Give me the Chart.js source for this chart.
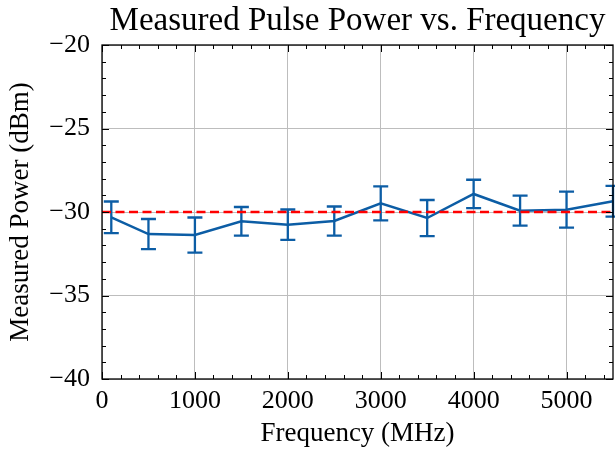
<!DOCTYPE html>
<html>
<head>
<meta charset="utf-8">
<script src="https://cdn.jsdelivr.net/npm/chart.js@4"></script>
<style>
html,body{margin:0;padding:0;background:#fff;}
#wrap{width:615px;height:450px;}
</style>
</head>
<body>
<div id="wrap"><canvas id="c" width="615" height="450"></canvas></div>
<script>
const frequencies = [100, 500, 1000, 1500, 2000, 2500, 3000, 3500, 4000, 4500, 5000, 5500];
const power = [-30.32, -31.32, -31.38, -30.56, -30.76, -30.54, -29.48, -30.36, -28.92, -29.92, -29.86, -29.36];
const powerErr = [0.95, 0.9, 1.05, 0.86, 0.91, 0.87, 1.02, 1.08, 0.85, 0.9, 1.08, 0.92];
const referenceLevel = -30;
const xLimits = [0, 5500];
const yLimits = [-40, -20];
const xTickValues = [0, 1000, 2000, 3000, 4000, 5000];
const yTickValues = [-40, -35, -30, -25, -20];
const xMajorStep = 1000, xMinorStep = 200;
const yMajorStep = 5, yMinorStep = 1;
const titleText = 'Measured Pulse Power vs. Frequency';
const xLabel = 'Frequency (MHz)';
const yLabel = 'Measured Power (dBm)';

const SERIF = '"Liberation Serif", "Times New Roman", serif';
const BLUE = '#0C5DA5';

const lineData = frequencies.map((f, i) => ({x: f, y: power[i]}));
const refData = [{x: xLimits[0], y: referenceLevel}, {x: xLimits[1], y: referenceLevel}];

const decorPlugin = {
  id: 'decor',
  afterDatasetDraw(chart, args) {
    if (args.index !== 0) return;
    const ctx = chart.ctx, xs = chart.scales.x, ys = chart.scales.y;
    ctx.save();
    ctx.strokeStyle = BLUE;
    ctx.lineWidth = 2.3;
    const cap = 7.5;
    frequencies.forEach((f, i) => {
      const px = xs.getPixelForValue(f);
      const top = ys.getPixelForValue(power[i] + powerErr[i]);
      const bot = ys.getPixelForValue(power[i] - powerErr[i]);
      ctx.beginPath();
      ctx.moveTo(px, top); ctx.lineTo(px, bot);
      ctx.moveTo(px - cap, top); ctx.lineTo(px + cap, top);
      ctx.moveTo(px - cap, bot); ctx.lineTo(px + cap, bot);
      ctx.stroke();
    });
    ctx.restore();
  },
  afterDraw(chart) {
    const ctx = chart.ctx, xs = chart.scales.x, ys = chart.scales.y;
    const a = chart.chartArea;
    ctx.save();
    ctx.strokeStyle = '#000';
    ctx.lineWidth = 1;
    for (let v = xLimits[0]; v <= xLimits[1] + 1e-9; v += xMinorStep) {
      const px = Math.round(xs.getPixelForValue(v)) + 0.5;
      const major = Math.abs(v / xMajorStep - Math.round(v / xMajorStep)) < 1e-9;
      const len = major ? 7 : 4;
      ctx.beginPath();
      ctx.moveTo(px, a.bottom); ctx.lineTo(px, a.bottom - len);
      ctx.moveTo(px, a.top); ctx.lineTo(px, a.top + len);
      ctx.stroke();
    }
    for (let v = yLimits[0]; v <= yLimits[1] + 1e-9; v += yMinorStep) {
      const py = Math.round(ys.getPixelForValue(v)) + 0.5;
      const major = Math.abs(v / yMajorStep - Math.round(v / yMajorStep)) < 1e-9;
      const len = major ? 7 : 4;
      ctx.beginPath();
      ctx.moveTo(a.left, py); ctx.lineTo(a.left + len, py);
      ctx.moveTo(a.right, py); ctx.lineTo(a.right - len, py);
      ctx.stroke();
    }
    ctx.lineWidth = 1.3;
    ctx.strokeRect(a.left, a.top, a.right - a.left, a.bottom - a.top);
    ctx.fillStyle = '#000';
    ctx.font = '33px ' + SERIF;
    ctx.textAlign = 'center';
    ctx.textBaseline = 'alphabetic';
    ctx.fillText(titleText, (a.left + a.right) / 2, 30);
    ctx.restore();
  }
};

const minusFmt = v => String(v).replace('-', '\u2212');

new Chart(document.getElementById('c'), {
  type: 'line',
  data: {
    datasets: [
      {
        data: lineData,
        borderColor: BLUE,
        borderWidth: 2.5,
        pointRadius: 0,
        tension: 0,
        fill: false,
        clip: false,
        order: 2
      },
      {
        data: refData,
        borderColor: '#ff0000',
        borderWidth: 2.3,
        borderDash: [9, 4.5],
        pointRadius: 0,
        tension: 0,
        fill: false,
        order: 1
      }
    ]
  },
  options: {
    responsive: false,
    animation: false,
    devicePixelRatio: 1,
    layout: {padding: {top: 45, right: 2, bottom: 0, left: 0}},
    plugins: {
      legend: {display: false},
      tooltip: {enabled: false},
      title: {display: false}
    },
    scales: {
      x: {
        type: 'linear',
        min: xLimits[0],
        max: xLimits[1],
        afterBuildTicks(s) { s.ticks = xTickValues.map(v => ({value: v})); },
        afterFit(s) { s.height = 71; },
        border: {display: false},
        grid: {color: '#bdbdbd', lineWidth: 1, drawTicks: false, tickLength: 0},
        ticks: {
          maxRotation: 0,
          autoSkip: false,
          padding: 7,
          color: '#000',
          font: {family: SERIF, size: 26},
          callback: v => minusFmt(v)
        },
        title: {
          display: true,
          text: xLabel,
          color: '#000',
          font: {family: SERIF, size: 27},
          padding: {top: 0, bottom: 0}
        }
      },
      y: {
        type: 'linear',
        min: yLimits[0],
        max: yLimits[1],
        afterBuildTicks(s) { s.ticks = yTickValues.map(v => ({value: v})); },
        afterFit(s) { s.width = 102; },
        border: {display: false},
        grid: {color: '#bdbdbd', lineWidth: 1, drawTicks: false, tickLength: 0},
        ticks: {
          autoSkip: false,
          padding: 12,
          color: '#000',
          font: {family: SERIF, size: 26},
          callback: v => minusFmt(v)
        },
        title: {
          display: true,
          text: yLabel,
          color: '#000',
          font: {family: SERIF, size: 27},
          padding: {top: 5, bottom: 0}
        }
      }
    }
  },
  plugins: [decorPlugin]
});
</script>
</body>
</html>
